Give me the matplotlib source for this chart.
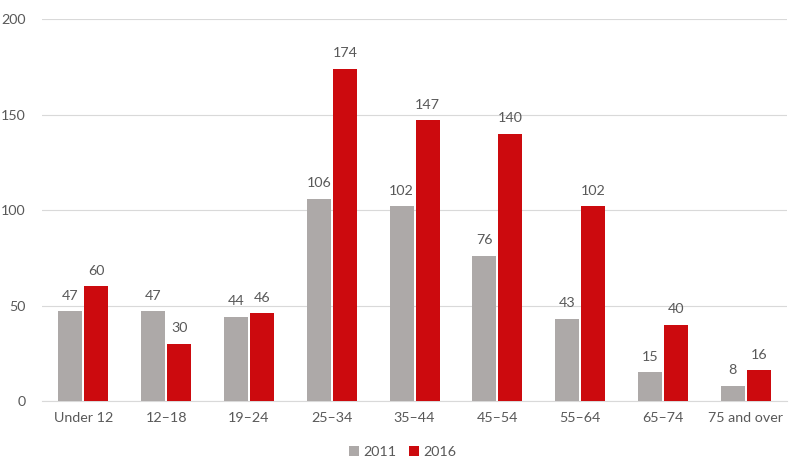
import numpy as np
import matplotlib.pyplot as plt

plt.rcParams['font.family'] = ['Lato', 'DejaVu Sans']

categories = ['Under 12', '12–18', '19–24', '25–34', '35–44', '45–54', '55–64', '65–74', '75 and over']
values_2011 = [47, 47, 44, 106, 102, 76, 43, 15, 8]
values_2016 = [60, 30, 46, 174, 147, 140, 102, 40, 16]

gray = '#ADA9A8'
red = '#CC0A0E'
text_color = '#595959'

fig = plt.figure(figsize=(8, 4.66), dpi=100)
ax = fig.add_axes([0.0525, 0.1395, 0.9315, 0.8195])

x = np.arange(len(categories))
width = 0.29
gap = 0.025

bars1 = ax.bar(x - width / 2 - gap / 2, values_2011, width, color=gray, label='2011', zorder=3)
bars2 = ax.bar(x + width / 2 + gap / 2, values_2016, width, color=red, label='2016', zorder=3)

for bars, vals in ((bars1, values_2011), (bars2, values_2016)):
    for bar, val in zip(bars, vals):
        ax.text(bar.get_x() + bar.get_width() / 2, val + 5, f'{val}',
                ha='center', va='bottom', fontsize=10.3, color=text_color)

ax.set_xlim(-0.5, len(categories) - 0.5)
ax.set_ylim(0, 200)
ax.set_yticks([0, 50, 100, 150, 200])
ax.set_xticks(x)
ax.set_xticklabels(categories)
ax.tick_params(axis='both', length=0, colors=text_color, labelsize=10.3)
ax.tick_params(axis='y', pad=12)
ax.tick_params(axis='x', pad=8)
ax.grid(axis='y', color='#D9D9D9', linewidth=0.8, zorder=0)
for side in ['top', 'right', 'left']:
    ax.spines[side].set_visible(False)
ax.spines['bottom'].set_color('#D9D9D9')

fig.legend(handles=[bars1, bars2], labels=['2011', '2016'], loc='center',
           bbox_to_anchor=(0.503, 0.03), ncol=2, frameon=False,
           fontsize=10.3, labelcolor=text_color, handlelength=0.7, handleheight=0.7,
           handletextpad=0.3, columnspacing=0.9)

plt.savefig('out.png', dpi=100, facecolor='white')
